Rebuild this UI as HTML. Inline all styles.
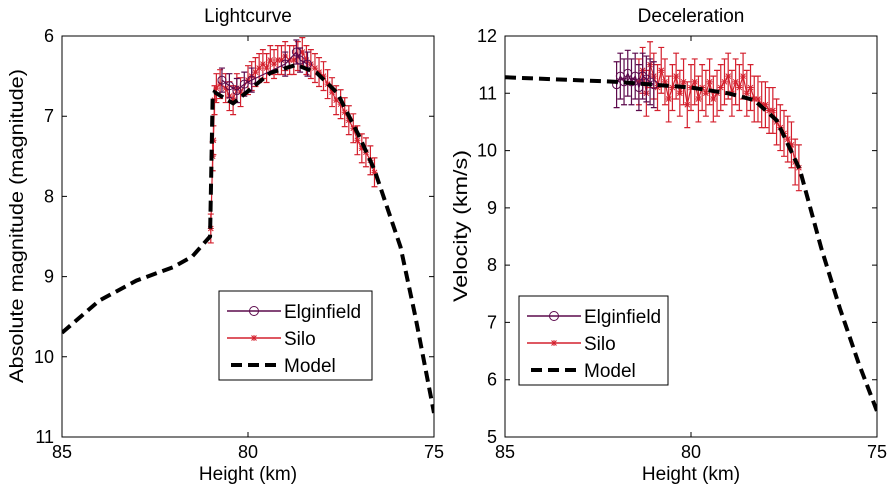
<!DOCTYPE html>
<html><head><meta charset="utf-8"><style>
body{margin:0;background:#fff;}
svg{display:block;font-family:"Liberation Sans",Arial,sans-serif;}
</style></head><body>
<svg id="c" width="894" height="489" viewBox="0 0 894 489"></svg>
<script>
// Left panel: Lightcurve
const lcXTicks = [85, 80, 75];
const lcYTicks = [6, 7, 8, 9, 10, 11];
const lcModelH = [85, 84, 83, 82, 81.5, 81.02, 80.95, 80.9, 80.4, 79.4, 78.7, 78.15, 77.6, 77.0, 76.6, 75.9, 75.5, 75];
const lcModelM = [9.7, 9.3, 9.05, 8.88, 8.75, 8.5, 6.75, 6.7, 6.84, 6.46, 6.36, 6.46, 6.71, 7.26, 7.67, 8.63, 9.5, 10.7];
const lcSiloH = [81.0, 80.95, 80.93, 80.9, 80.85, 80.75, 80.6, 80.5, 80.4, 80.3, 80.2, 80.0, 79.9, 79.8, 79.7, 79.6, 79.5, 79.4, 79.3, 79.2, 79.1, 79.0, 78.88, 78.77, 78.66, 78.54, 78.43, 78.31, 78.2, 78.09, 77.97, 77.86, 77.74, 77.63, 77.51, 77.4, 77.29, 77.17, 77.06, 76.94, 76.83, 76.71, 76.6];
const lcSiloM = [8.4, 7.5, 7.3, 6.8, 6.65, 6.6, 6.65, 6.75, 6.8, 6.65, 6.7, 6.55, 6.5, 6.45, 6.4, 6.35, 6.4, 6.3, 6.35, 6.3, 6.3, 6.25, 6.3, 6.3, 6.25, 6.2, 6.3, 6.35, 6.4, 6.45, 6.5, 6.6, 6.7, 6.8, 6.85, 6.95, 7.05, 7.15, 7.3, 7.4, 7.45, 7.55, 7.7];
const lcSiloE = 0.18;
const lcElgH = [80.7, 80.5, 80.3, 80.1, 79.9, 79.0, 78.7, 78.6, 78.4];
const lcElgM = [6.55, 6.62, 6.68, 6.6, 6.55, 6.35, 6.2, 6.3, 6.35];
// Right panel: Deceleration
const dcXTicks = [85, 80, 75];
const dcYTicks = [5, 6, 7, 8, 9, 10, 11, 12];
const dcModelH = [85, 82, 81, 80, 79.5, 79, 78.3, 77.7, 77.07, 76.5, 76, 75.5, 75];
const dcModelV = [11.28, 11.2, 11.15, 11.1, 11.05, 11.0, 10.88, 10.53, 9.66, 8.3, 7.25, 6.3, 5.45];
const dcElgH = [82.0, 81.9, 81.8, 81.7, 81.6, 81.5, 81.4, 81.3, 81.2, 81.1, 81.0];
const dcElgV = [11.15, 11.3, 11.2, 11.35, 11.2, 11.3, 11.1, 11.3, 11.25, 11.2, 11.15];
const dcSiloH = [81.4, 81.3, 81.2, 81.1, 81.0, 80.9, 80.8, 80.7, 80.6, 80.5, 80.4, 80.3, 80.2, 80.1, 80.0, 79.9, 79.8, 79.7, 79.6, 79.5, 79.4, 79.3, 79.2, 79.1, 79.0, 78.9, 78.8, 78.7, 78.6, 78.5, 78.4, 78.3, 78.2, 78.1, 78.0, 77.9, 77.8, 77.7, 77.6, 77.5, 77.4, 77.3, 77.2, 77.1];
const dcSiloV = [11.2, 11.4, 11.0, 11.5, 11.3, 11.1, 11.4, 11.2, 10.9, 11.1, 11.3, 11.0, 11.2, 10.8, 11.1, 11.2, 10.9, 11.1, 11.0, 11.2, 10.9, 11.0, 11.1, 11.2, 11.3, 11.0, 11.2, 11.1, 11.3, 11.0, 11.1, 10.9, 10.9, 10.8, 10.8, 10.7, 10.7, 10.5, 10.4, 10.3, 10.2, 10.1, 9.8, 9.7];
const dcErr = 0.4;

const svg = document.getElementById('c');
const NS = 'http://www.w3.org/2000/svg';
function mk(tag, attrs, parent, text){
  const e = document.createElementNS(NS, tag);
  for (const k in attrs) e.setAttribute(k, attrs[k]);
  if (text !== undefined) e.textContent = text;
  (parent || svg).appendChild(e);
  return e;
}
const ELG = '#5c0a4c', SILO = '#d4202e';

function panel(o){
  const g = mk('g', {});
  
  
  const L = o.x0, R = o.x1, T = 36, B = 437;
  const sx = h => L + (o.hmax - h) / (o.hmax - o.hmin) * (R - L);
  const sy = v => o.inv ? T + (v - o.vmin) / (o.vmax - o.vmin) * (B - T) : B - (v - o.vmin) / (o.vmax - o.vmin) * (B - T);
  mk('rect', {x: L, y: T, width: R - L, height: B - T, fill: '#fff', stroke: 'none'}, g);
  const clipId = o.name + '-clip';
  const cp = mk('clipPath', {id: clipId}, g);
  mk('rect', {x: L, y: T, width: R - L, height: B - T}, cp);
  const dg = mk('g', {'clip-path': 'url(#' + clipId + ')'}, g);
  function series(H, V, E, color, marker, nm){
    const sg = mk('g', {}, dg);
    
    
    mk('polyline', {points: H.map((h, i) => sx(h) + ',' + sy(V[i])).join(' '), fill: 'none', stroke: color, 'stroke-width': 1.2}, sg);
    H.forEach((h, i) => {
      const x = sx(h), e = Array.isArray(E) ? E[i] : E;
      const y1 = sy(V[i] - e), y2 = sy(V[i] + e);
      mk('path', {d: `M${x},${y1}V${y2}M${x-3},${y1}H${x+3}M${x-3},${y2}H${x+3}`, stroke: color, 'stroke-width': 1.2, fill: 'none'}, sg);
      const y = sy(V[i]);
      if (marker === 'o') mk('circle', {cx: x, cy: y, r: 4, fill: 'none', stroke: color, 'stroke-width': 1}, sg);
      else mk('path', {d: `M${x-3},${y}H${x+3}M${x},${y-3}V${y+3}M${x-2.5},${y-2.5}L${x+2.5},${y+2.5}M${x-2.5},${y+2.5}L${x+2.5},${y-2.5}`, stroke: color, 'stroke-width': 1}, sg);
    });
  }
  series(o.sH, o.sV, o.sE, SILO, '*', 'silo-series');
  series(o.eH, o.eV, o.eE, ELG, 'o', 'elginfield-series');
  const m = mk('polyline', {points: o.mH.map((h, i) => sx(h) + ',' + sy(o.mV[i])).join(' '), fill: 'none', stroke: '#000', 'stroke-width': 4, 'stroke-dasharray': '11,6'}, dg);
  
  
  mk('rect', {x: L, y: T, width: R - L, height: B - T, fill: 'none', stroke: '#000', 'stroke-width': 1}, g);
  o.xt.forEach(t => {
    const x = sx(t);
    mk('path', {d: `M${x},${B}V${B-5}M${x},${T}V${T+5}`, stroke: '#000'}, g);
    const tl = mk('text', {x: x, y: B + 21, 'text-anchor': 'middle', 'font-size': 18}, g, t);
    
    
  });
  o.yt.forEach(t => {
    const y = sy(t);
    mk('path', {d: `M${L},${y}H${L+5}M${R},${y}H${R-5}`, stroke: '#000'}, g);
    const tl = mk('text', {x: L - 8, y: y + 6, 'text-anchor': 'end', 'font-size': 18}, g, t);
    
    
  });
  const ti = mk('text', {x: (L + R) / 2, y: 22, 'text-anchor': 'middle', 'font-size': 19}, g, o.title);
  
  
  const xl = mk('text', {x: (L + R) / 2, y: 480, 'text-anchor': 'middle', 'font-size': 19}, g, 'Height (km)');
  
  
  const yl = mk('text', {x: 0, y: 0, 'text-anchor': 'middle', 'font-size': 19, textLength: o.ylLen, lengthAdjust: 'spacingAndGlyphs', transform: `translate(${o.ylx},${o.yly}) rotate(-90)`}, g, o.ylabel);
  
  
  const lg = mk('g', {}, g);
  
  
  const lx = o.lx, ly = o.ly;
  mk('rect', {x: lx, y: ly, width: o.lw, height: 89, fill: '#fff', stroke: '#000'}, lg);
  const items = [['Elginfield', ELG, 'o'], ['Silo', SILO, '*'], ['Model', '#000', '-']];
  items.forEach((it, i) => {
    const y = ly + 20 + i * 27;
    const eg = mk('g', {}, lg);
    
    
    if (it[2] === '-') mk('path', {d: `M${lx+12},${y}H${lx+62}`, stroke: '#000', 'stroke-width': 4, 'stroke-dasharray': '11,6'}, eg);
    else mk('path', {d: `M${lx+8},${y}H${lx+62}`, stroke: it[1], 'stroke-width': 1.5}, eg);
    const cx = lx + 35;
    if (it[2] === 'o') mk('circle', {cx: cx, cy: y, r: 4.5, fill: 'none', stroke: it[1]}, eg);
    if (it[2] === '*') mk('path', {d: `M${cx-3},${y}H${cx+3}M${cx},${y-3}V${y+3}M${cx-2.5},${y-2.5}L${cx+2.5},${y+2.5}M${cx-2.5},${y+2.5}L${cx+2.5},${y-2.5}`, stroke: it[1]}, eg);
    mk('text', {x: lx + 65, y: y + 7, 'font-size': 19}, eg, it[0]);
  });
}
panel({name: 'lightcurve-panel', x0: 62, x1: 434, hmax: 85, hmin: 75, vmin: 6, vmax: 11, inv: true,
  xt: lcXTicks, yt: lcYTicks, mH: lcModelH, mV: lcModelM, sH: lcSiloH, sV: lcSiloM, sE: lcSiloE,
  eH: lcElgH, eV: lcElgM, eE: 0.15, title: 'Lightcurve', ylabel: 'Absolute magnitude (magnitude)', ylx: 23, yly: 226, ylLen: 314,
  lx: 219, ly: 291, lw: 153});
panel({name: 'deceleration-panel', x0: 505, x1: 877, hmax: 85, hmin: 75, vmin: 5, vmax: 12, inv: false,
  xt: dcXTicks, yt: dcYTicks, mH: dcModelH, mV: dcModelV, sH: dcSiloH, sV: dcSiloV, sE: dcErr,
  eH: dcElgH, eV: dcElgV, eE: 0.4, title: 'Deceleration', ylabel: 'Velocity (km/s)', ylx: 467, yly: 226, ylLen: 152,
  lx: 519, ly: 296, lw: 149});
</script>
</body></html>
